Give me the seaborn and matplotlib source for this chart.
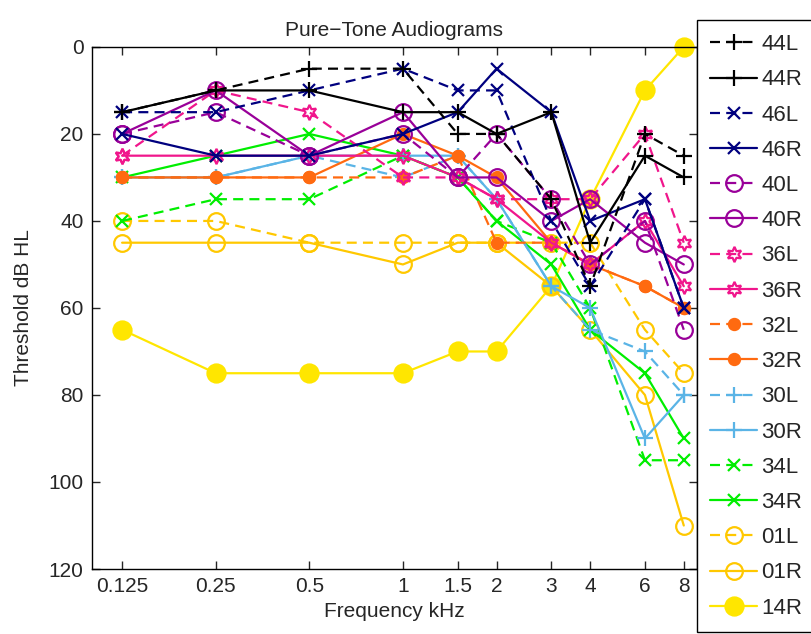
import matplotlib
matplotlib.use("Agg")
import matplotlib.pyplot as plt
import seaborn as sns

freqs = [0.125, 0.25, 0.5, 1, 1.5, 2, 3, 4, 6, 8]
freq_labels = ["0.125", "0.25", "0.5", "1", "1.5", "2", "3", "4", "6", "8"]

s44L = [15, 10, 5, 5, 20, 20, 35, 55, 20, 25]
s44R = [15, 10, 10, 15, 15, 20, 15, 45, 25, 30]
s46L = [15, 15, 10, 5, 10, 10, 40, 55, 35, 60]
s46R = [20, 25, 25, 20, 15, 5, 15, 40, 35, 60]
s40L = [20, 15, 25, 20, 30, 20, 35, 50, 40, 65]
s40R = [20, 10, 25, 15, 30, 30, 40, 35, 45, 50]
s36L = [25, 10, 15, 30, 30, 35, 35, 35, 20, 45]
s36R = [25, 25, 25, 25, 30, 35, 45, 50, 40, 55]
s32L = [30, 30, 30, 30, 25, 45, 45, 50, 55, 60]
s32R = [30, 30, 30, 20, 25, 30, 45, 50, 55, 60]
s30L = [30, 30, 25, 30, 25, 35, 55, 65, 70, 80]
s30R = [30, 30, 25, 25, 25, 35, 55, 60, 90, 80]
s34L = [40, 35, 35, 25, 30, 40, 45, 60, 95, 95]
s34R = [30, 25, 20, 25, 30, 40, 50, 65, 75, 90]
s01L = [40, 40, 45, 45, 45, 45, 45, 45, 65, 75]
s01R = [45, 45, 45, 50, 45, 45, 55, 65, 80, 110]
s14R = [65, 75, 75, 75, 70, 70, 55, 35, 10, 0]

labels = ["44L", "44R", "46L", "46R", "40L", "40R", "36L", "36R",
          "32L", "32R", "30L", "30R", "34L", "34R", "01L", "01R", "14R"]
series = [s44L, s44R, s46L, s46R, s40L, s40R, s36L, s36R,
          s32L, s32R, s30L, s30R, s34L, s34R, s01L, s01R, s14R]

sns.set_style("ticks")
plt.rcParams["font.family"] = ["Liberation Sans", "DejaVu Sans"]

DASH = (0, (4.5, 2.8))
styles = {
    "44": dict(color="#000000", marker="+", ms=12, filled=False),
    "46": dict(color="#00007F", marker="x", ms=9, filled=False),
    "40": dict(color="#990099", marker="o", ms=12, filled=False),
    "36": dict(color="#F0168C", marker=(6, 1, 0), ms=11, filled=False),
    "32": dict(color="#FF6A10", marker="o", ms=8, filled=True),
    "30": dict(color="#5AB4E6", marker="+", ms=12, filled=False),
    "34": dict(color="#00EE00", marker="x", ms=9, filled=False),
    "01": dict(color="#FFC800", marker="o", ms=12, filled=False),
    "14": dict(color="#FFE600", marker="o", ms=13, filled=True),
}

fig = plt.figure(figsize=(8.11, 6.34), dpi=100)
ax = fig.add_axes([0.1134, 0.1025, 0.7456, 0.8235])

n = len(labels)
for i, (lab, vals) in enumerate(zip(labels, series)):
    st = styles[lab[:2]]
    ls = DASH if lab.endswith("L") else "-"
    sns.lineplot(x=freqs, y=vals, ax=ax, color=st["color"], marker=st["marker"],
                 markersize=st["ms"], linestyle=ls, linewidth=1.6,
                 markeredgecolor=st["color"], markeredgewidth=1.6,
                 markerfacecolor=st["color"] if st["filled"] else "none",
                 label=lab, zorder=2 + (n - i) * 0.01, clip_on=False,
                 estimator=None, sort=False)

ax.set_xscale("log")
ax.set_xlim(0.1, 8.8)
ax.set_xticks(freqs)
ax.set_xticklabels(freq_labels)
ax.minorticks_off()
ax.set_ylim(120, 0)
ax.set_yticks([0, 20, 40, 60, 80, 100, 120])
ax.tick_params(direction="in", top=True, right=True, labelsize=15, length=6,
               width=1, pad=6)
for sp in ax.spines.values():
    sp.set_linewidth(1.0)
    sp.set_color("black")
ax.set_xlabel("Frequency kHz", fontsize=15, labelpad=4)
ax.set_ylabel("Threshold dB HL", fontsize=15, labelpad=11)
ax.set_title("Pure\u2212Tone Audiograms", fontsize=15, pad=8)

leg = ax.legend(loc="upper left", bbox_to_anchor=(0.859, 0.968),
                bbox_transform=fig.transFigure, fontsize=16, numpoints=1,
                handlelength=2.1, handletextpad=0.2, labelspacing=0.64,
                borderpad=0.62, borderaxespad=0, frameon=True, fancybox=False,
                framealpha=1, edgecolor="black")
leg.get_frame().set_linewidth(1.0)

fig.savefig("out.png", dpi=100)
